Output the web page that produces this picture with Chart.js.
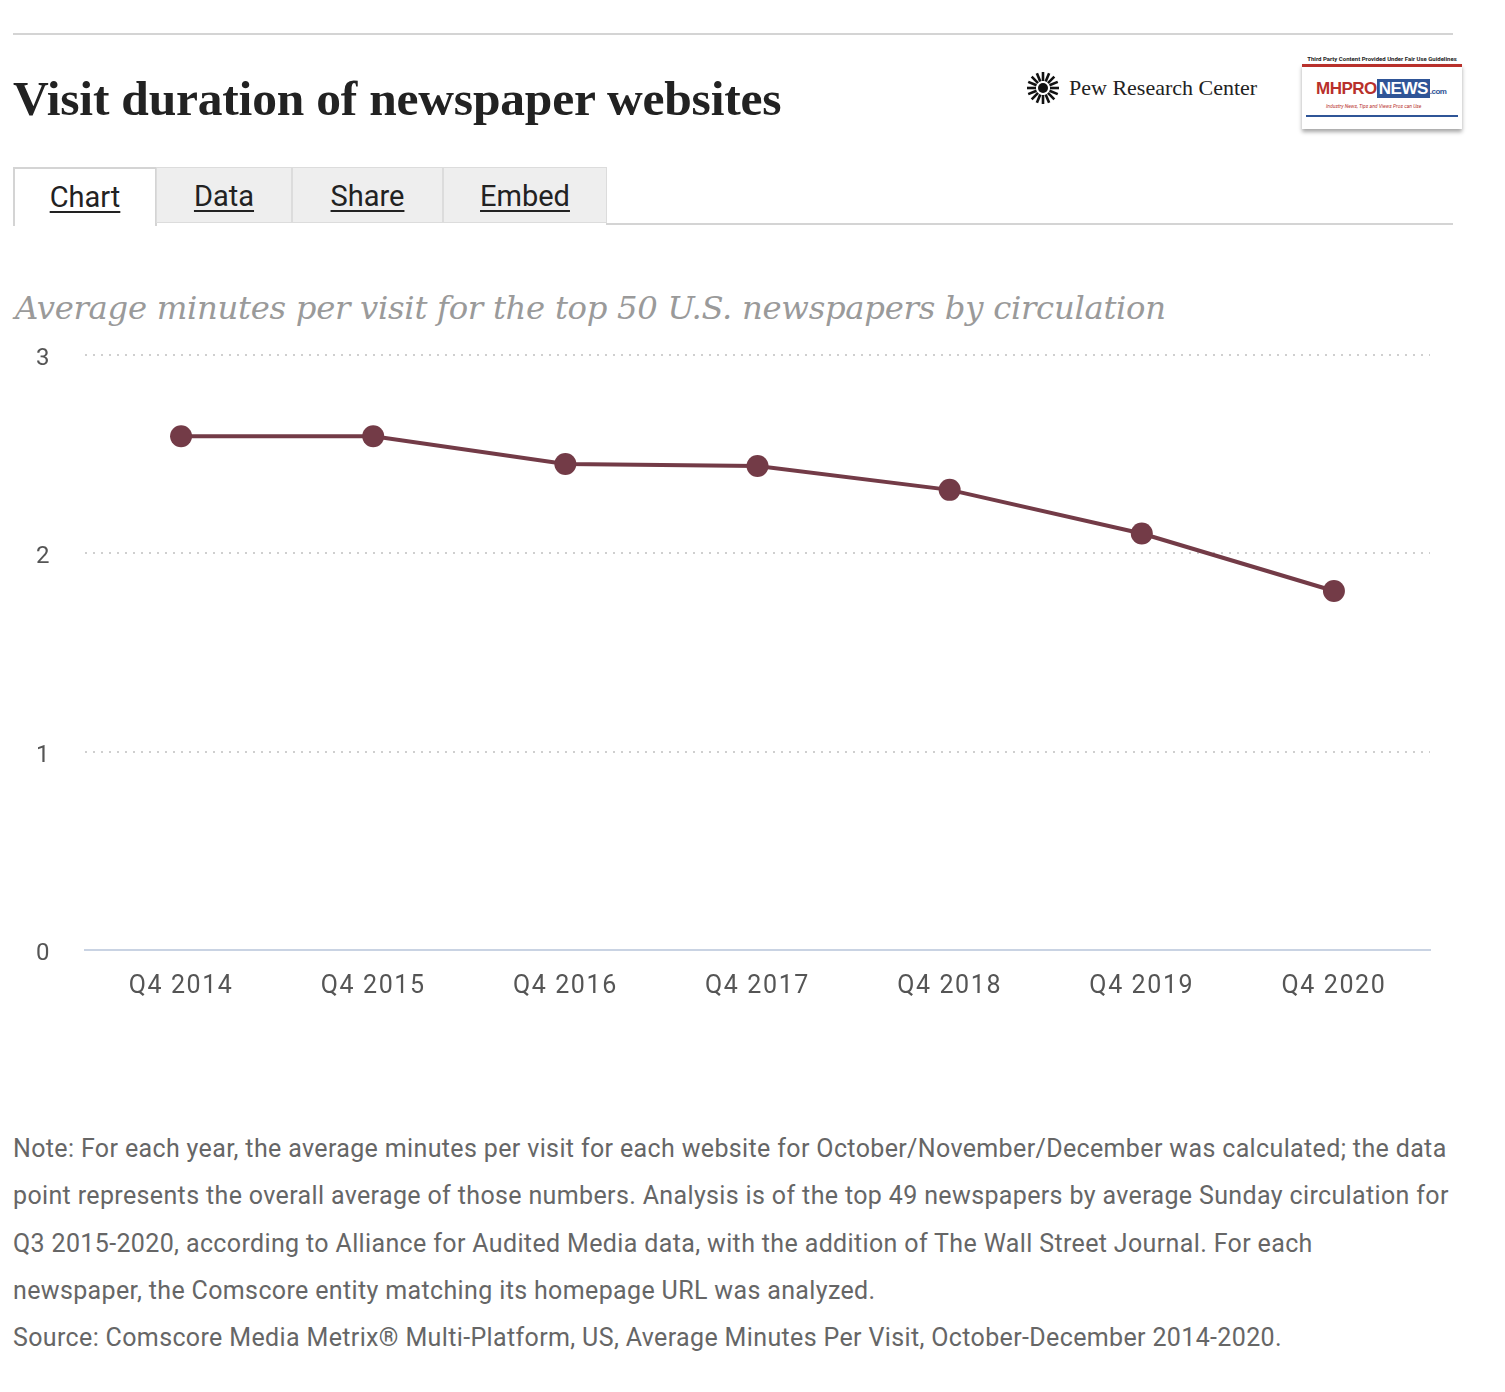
<!DOCTYPE html>
<html>
<head>
<meta charset="utf-8">
<script src="https://cdn.jsdelivr.net/npm/chart.js@4/dist/chart.umd.min.js"></script>
<style>
  body { margin: 0; background: #fff; width: 1505px; height: 1392px; position: relative; overflow: hidden; font-family: Roboto, "Liberation Sans", sans-serif; }
  .rule { position: absolute; left: 13px; top: 33px; width: 1440px; height: 2px; background: #d4d4d4; }
  .title { position: absolute; left: 13px; top: 69px; font-family: "Liberation Serif", Georgia, serif; font-weight: bold; font-size: 49.5px; line-height: 60px; color: #222; letter-spacing: -0.2px; }
  .pew { position: absolute; left: 1025px; top: 70px; height: 36px; display: flex; align-items: center; }
  .pew span { font-family: "Liberation Serif", serif; font-size: 22px; color: #222; margin-left: 8px; }
  .mh { position: absolute; left: 1296px; top: 55px; width: 172px; }
  .mh .fine { font-size: 6px; font-weight: bold; color: #222; text-align: center; white-space: nowrap; }
  .mh .box { margin: 2px 6px 0 6px; height: 62px; background: #fff; box-shadow: 0 3px 4px rgba(0,0,0,0.35); border-top: 3px solid #b8302b; position: relative; }
  .mh .logo { position: absolute; left: 14px; top: 12px; font-family: "Liberation Sans", sans-serif; font-weight: bold; font-size: 17px; letter-spacing: -0.5px; }
  .mh .logo .r { color: #b8302b; }
  .mh .logo .b { color: #fff; background: #2f5597; padding: 0 2px; }
  .mh .logo .c { color: #2f5597; font-size: 8px; }
  .mh .tag { position: absolute; left: 24px; top: 36px; font-size: 5px; font-style: italic; color: #b8302b; }
  .mh .line2 { position: absolute; left: 4px; right: 4px; top: 48px; height: 2px; background: #2f5597; }
  .tabs { position: absolute; left: 13px; top: 167px; height: 58px; }
  .tab { position: absolute; top: 0; height: 56px; background: #eeeeee; border: 1px solid #dcdcdc; box-sizing: border-box; font-size: 29px; color: #222; text-align: center; line-height: 56px; }
  .tab u { text-decoration-thickness: 2px; text-underline-offset: 4px; }
  .tab.active { background: #fff; border: 2px solid #d4d4d4; border-bottom: none; height: 59px; }
  .tabline { position: absolute; left: 606px; top: 223px; width: 847px; height: 2px; background: #d4d4d4; }
  .subtitle { position: absolute; left: 15px; top: 289px; font-family: "DejaVu Serif", Georgia, serif; font-style: italic; font-size: 32.3px; color: #9a9a9a; letter-spacing: -0.3px; }
  .chartbox { position: absolute; left: 0; top: 330px; width: 1460px; height: 700px; }
  .note { position: absolute; left: 13px; top: 1125px; font-size: 25px; line-height: 47.3px; letter-spacing: 0.36px; color: #666; white-space: nowrap; }
</style>
</head>
<body>
<div class="rule"></div>
<div class="title">Visit duration of newspaper websites</div>
<div class="pew">
  <svg width="36" height="36" viewBox="-18 -18 36 36" id="burst"></svg>
  <span>Pew Research Center</span>
</div>
<div class="mh">
  <div class="fine">Third Party Content Provided Under Fair Use Guidelines</div>
  <div class="box">
    <div class="logo"><span class="r">MHPRO</span><span class="b">NEWS</span><span class="c">.com</span></div>
    <div class="tag">Industry News, Tips and Views Pros can Use</div>
    <div class="line2"></div>
  </div>
</div>
<div class="tabs">
  <div class="tab active" style="left:0;width:144px;"><u>Chart</u></div>
  <div class="tab" style="left:143px;width:136px;"><u>Data</u></div>
  <div class="tab" style="left:279px;width:151px;"><u>Share</u></div>
  <div class="tab" style="left:430px;width:164px;"><u>Embed</u></div>
</div>
<div class="tabline"></div>
<div class="subtitle">Average minutes per visit for the top 50 U.S. newspapers by circulation</div>
<div class="chartbox"><canvas id="chart"></canvas></div>
<div class="note">
  Note: For each year, the average minutes per visit for each website for October/November/December was calculated; the data<br>
  point represents the overall average of those numbers. Analysis is of the top 49 newspapers by average Sunday circulation for<br>
  Q3 2015-2020, according to Alliance for Audited Media data, with the addition of The Wall Street Journal. For each<br>
  newspaper, the Comscore entity matching its homepage URL was analyzed.<br>
  Source: Comscore Media Metrix® Multi-Platform, US, Average Minutes Per Visit, October-December 2014-2020.
</div>

<script>
// Chart data
const quarters = ['Q4 2014', 'Q4 2015', 'Q4 2016', 'Q4 2017', 'Q4 2018', 'Q4 2019', 'Q4 2020'];
const avgMinutes = [2.59, 2.59, 2.45, 2.44, 2.32, 2.10, 1.81];
const yTicks = [0, 1, 2, 3];

const lineColor = '#733b47';

// Pew sunburst logo
(function() {
    const svg = document.getElementById('burst');
    let html = '<circle r="5" fill="#111"/>';
    for (let i = 0; i < 16; i++) {
        const a = i * Math.PI / 8;
        const x1 = Math.cos(a) * 7, y1 = Math.sin(a) * 7;
        const x2 = Math.cos(a) * 16, y2 = Math.sin(a) * 16;
        html += '<line x1="' + x1 + '" y1="' + y1 + '" x2="' + x2 + '" y2="' + y2 + '" stroke="#111" stroke-width="2.6"/>';
    }
    svg.innerHTML = html;
})();

// Wider letter spacing for the axis labels
const letterSpacingPlugin = {
    id: 'letterSpacing',
    beforeDraw: function(chart) { chart.ctx.letterSpacing = '1.6px'; }
};

const ctx = document.getElementById('chart').getContext('2d');
new Chart(ctx, {
    type: 'line',
    data: {
        labels: quarters,
        datasets: [{
            data: avgMinutes,
            borderColor: lineColor,
            backgroundColor: lineColor,
            borderWidth: 4,
            pointRadius: 11,
            pointBackgroundColor: lineColor,
            pointBorderWidth: 0,
            tension: 0,
            fill: false
        }]
    },
    plugins: [letterSpacingPlugin],
    options: {
        responsive: true,
        maintainAspectRatio: false,
        animation: false,
        layout: { padding: { top: 25, right: 30, left: 0, bottom: 0 } },
        plugins: {
            legend: { display: false },
            tooltip: { enabled: false }
        },
        scales: {
            x: {
                offset: true,
                grid: { display: false, drawTicks: false },
                border: { display: true, color: '#c9d3e3', width: 2 },
                ticks: {
                    padding: 22,
                    color: '#555',
                    font: { family: 'Roboto, sans-serif', size: 25 }
                },
                afterFit: function(scale) { scale.height = 80; }
            },
            y: {
                min: 0,
                max: 3,
                afterBuildTicks: function(scale) {
                    scale.ticks = yTicks.map(function(v) { return { value: v }; });
                },
                grid: {
                    drawTicks: false,
                    color: function(c) { return c.tick && c.tick.value === 0 ? 'rgba(0,0,0,0)' : '#cfcfcf'; },
                    lineWidth: 2
                },
                border: { display: false, dash: [2, 6] },
                ticks: {
                    color: '#555',
                    padding: 34,
                    labelOffset: 4,
                    font: { family: 'Roboto, sans-serif', size: 24 }
                },
                afterFit: function(scale) {
                    scale.width = 85;
                    scale.paddingTop = 0;
                    scale.paddingBottom = 0;
                }
            }
        }
    }
});
</script>
</body>
</html>
